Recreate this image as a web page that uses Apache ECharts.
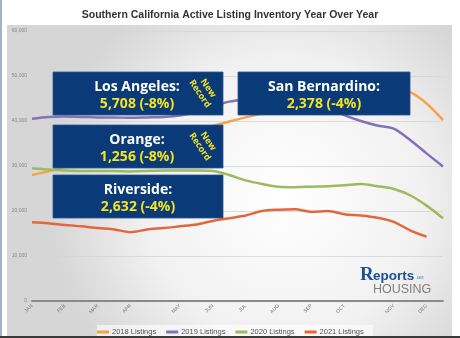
<!DOCTYPE html>
<html>
<head>
<meta charset="utf-8">
<script src="https://cdn.jsdelivr.net/npm/echarts@6/dist/echarts.min.js"></script>
<style>html,body{margin:0;padding:0;background:#fff}#c{width:460px;height:338px}</style>
</head>
<body>
<div id="c"></div>
<script>
// ---- data (biweekly periods through the year) ----
const periods = ['P1','P2','P3','P4','P5','P6','P7','P8','P9','P10','P11','P12','P13',
  'P14','P15','P16','P17','P18','P19','P20','P21','P22','P23','P24','P25','P26'];
const monthLabels = {0:'JAN',2:'FEB',4:'MAR',6:'APR',9:'MAY',11:'JUN',13:'JUL',15:'AUG',17:'SEP',19:'OCT',22:'NOV',24:'DEC'};
const seriesNames = ['2018 Listings','2019 Listings','2020 Listings','2021 Listings'];
const listings2018 = [28000,28800,29800,30800,31800,33000,34200,35300,36300,37300,38100,38900,39900,
  40800,41700,42600,43500,44400,45200,46000,46600,47000,47000,46400,43900,40200];
const listings2019 = [40500,40900,41000,40900,40800,40800,40700,40800,40900,41200,42000,43200,44300,
  44800,45000,45000,44700,44000,43000,41300,40000,39000,38300,35800,32800,29900];
const listings2020 = [29500,29200,29000,28900,28900,28900,28800,28900,29000,29000,29000,28900,28000,
  26800,26000,25400,25300,25400,25500,25700,26000,25500,24900,23500,21200,18400];
const listings2021 = [17500,17300,16900,16600,16200,15900,15300,15900,16200,16600,17000,17800,18400,
  19000,20000,20300,20400,19800,20000,19300,19000,18500,17600,15700,14300,null];
const yTicks = [0,10000,20000,30000,40000,50000,60000];
const titleText = 'Southern California Active Listing Inventory Year Over Year';
const callouts = [
  {name:'Los Angeles:', value:'5,708 (-8%)', record:true},
  {name:'Orange:', value:'1,256 (-8%)', record:true},
  {name:'Riverside:', value:'2,632 (-4%)', record:false},
  {name:'San Bernardino:', value:'2,378 (-4%)', record:false}
];

const colors = ['#f6a24c','#8372b8','#9dba5c','#e3663f'];
const seriesData = [listings2018, listings2019, listings2020, listings2021];

const boxPos = [
  {x:53,y:72,w:170,h:43},
  {x:53,y:125,w:170,h:43},
  {x:53,y:175,w:170,h:43},
  {x:238,y:72,w:172,h:43}
];
const navy = '#0a3b78';
const yellow = '#f3e324';
const graphics = [];
// panel background
graphics.push({type:'rect', z:-10, silent:true, shape:{x:7,y:25,width:445,height:313},
  style:{fill:{type:'radial',x:0.62,y:0.55,r:0.75,colorStops:[{offset:0,color:'#ffffff'},{offset:0.6,color:'#f1f1f1'},{offset:1,color:'#d6d6d6'}]}}});
graphics.push({type:'rect', z:-9, silent:true, shape:{x:97,y:325,width:276,height:11}, style:{fill:'rgba(255,255,255,0.6)'}});
graphics.push({type:'rect', z:-9, silent:true, shape:{x:0,y:0,width:2,height:338}, style:{fill:'#9fb3cf'}});
graphics.push({type:'rect', z:-8, silent:true, shape:{x:0,y:336,width:460,height:2}, style:{fill:'#3a3a3a'}});
callouts.forEach((c,i)=>{
  const b = boxPos[i];
  graphics.push({type:'rect', z:100, shape:{x:b.x,y:b.y,width:b.w,height:b.h},
    style:{fill:navy, stroke:'#2a5590', lineWidth:0.8}});
  const cx = c.record ? b.x + 84 : b.x + b.w/2;
  graphics.push({type:'text', z:101, x:cx, y:b.y+15, style:{text:c.name, fill:'#ffffff',
    font:'bold 14px "Open Sans", "Noto Sans", sans-serif', textAlign:'center', textVerticalAlign:'middle'}});
  graphics.push({type:'text', z:101, x:cx, y:b.y+32, style:{text:c.value, fill:yellow,
    font:'bold 14px "Open Sans", "Noto Sans", sans-serif', textAlign:'center', textVerticalAlign:'middle'}});
  if (c.record) {
    graphics.push({type:'text', z:101, x:b.x+151, y:b.y+19, rotation:-0.98, style:{text:'New\nRecord', fill:yellow,
      font:'bold 9px "Open Sans", "Noto Sans", sans-serif', textAlign:'center', textVerticalAlign:'middle', lineHeight:10}});
  }
});
// logo
graphics.push({type:'text', z:5, x:360, y:275, style:{text:'R', fill:'#1c4f8e', font:'bold 19px "Liberation Serif", serif', textAlign:'left', textVerticalAlign:'middle'}});
graphics.push({type:'text', z:5, x:373, y:276, style:{text:'eports', fill:'#1c4f8e', font:'bold 13.5px "Liberation Sans", sans-serif', textAlign:'left', textVerticalAlign:'middle'}});
graphics.push({type:'text', z:5, x:417, y:277, style:{text:'on', fill:'#3b7bc0', font:'6px "Liberation Sans", sans-serif', textAlign:'left', textVerticalAlign:'middle'}});
graphics.push({type:'text', z:5, x:373, y:290, style:{text:'HOUSING', fill:'#808080', font:'12.5px "Liberation Sans", sans-serif', textAlign:'left', textVerticalAlign:'middle'}});

const chart = echarts.init(document.getElementById('c'), null, {renderer:'canvas'});
chart.setOption({
  backgroundColor:'#ffffff',
  animation:false,
  color: colors,
  title:{text:titleText, left:'center', top:5,
    textStyle:{fontFamily:'"Liberation Sans", Arial, sans-serif', fontWeight:'bold', fontSize:10.5, color:'#333'}},
  grid:{left:32, right:17, top:31, bottom:37, containLabel:false},
  legend:{data:seriesNames, left:97, top:328, itemWidth:12, itemHeight:3, itemGap:10, icon:'rect', padding:0,
    textStyle:{fontSize:7.5, color:'#555', fontFamily:'"Liberation Sans", Arial, sans-serif', padding:[0,0,0,-2]}},
  xAxis:{type:'category', data:periods, boundaryGap:false,
    axisLine:{lineStyle:{color:'#8a8a8a', width:2}},
    axisTick:{show:false},
    axisLabel:{interval:(i)=> monthLabels[i]!==undefined, formatter:(v,i)=> monthLabels[i]||'',
      rotate:45, fontSize:5, color:'#777', margin:4, fontFamily:'"Liberation Sans", Arial, sans-serif'}},
  yAxis:{type:'value', min:yTicks[0], max:yTicks[yTicks.length-1], interval:yTicks[1]-yTicks[0],
    axisLine:{show:false}, axisTick:{show:false},
    splitLine:{lineStyle:{color:'#d4d4d4', width:0.8}},
    axisLabel:{fontSize:5, color:'#888', margin:5, formatter:(v)=> v.toLocaleString('en-US'),
      fontFamily:'"Liberation Sans", Arial, sans-serif'}},
  graphic: graphics,
  series: seriesNames.map((n,i)=>({name:n, type:'line', data:seriesData[i], smooth:0.3,
    showSymbol:false, symbol:'none', lineStyle:{width:2.5, color:colors[i]}, itemStyle:{color:colors[i]}}))
});
</script>
</body>
</html>
